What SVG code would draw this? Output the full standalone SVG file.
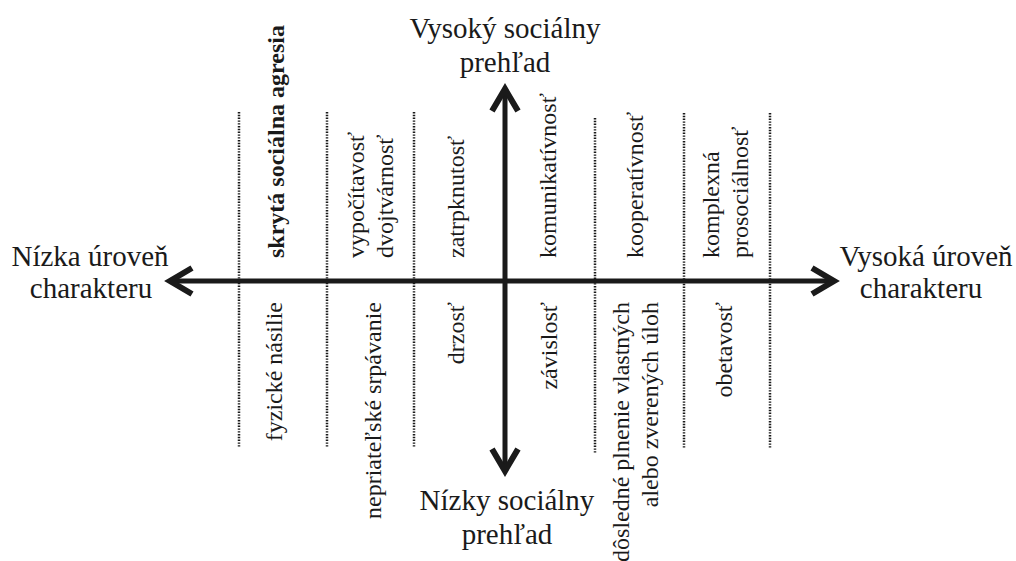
<svg xmlns="http://www.w3.org/2000/svg" width="1016" height="561" viewBox="0 0 1016 561">
<defs>
<style>
.dot{stroke:#1a1a1a;stroke-width:2.5;stroke-dasharray:1.4 1.4;fill:none}
.ax{stroke:#1a1a1a;stroke-width:5;fill:none}
.ah{stroke:#1a1a1a;stroke-width:6;fill:none;stroke-linecap:butt;stroke-linejoin:miter}
</style>
</defs>
<rect width="1016" height="561" fill="#fff"/>
<g id="dividers">
<line class="dot" x1="239" y1="112" x2="239" y2="448"/>
<line class="dot" x1="327" y1="112" x2="327" y2="448"/>
<line class="dot" x1="414" y1="112" x2="414" y2="448"/>
<line class="dot" x1="595" y1="118" x2="595" y2="453"/>
<line class="dot" x1="684" y1="113" x2="684" y2="448"/>
<line class="dot" x1="770" y1="113" x2="770" y2="448"/>
</g>
<g id="connectors">
<line class="ax" x1="172" y1="281" x2="831" y2="281"/>
<line class="ax" x1="505" y1="92" x2="505" y2="469"/>
<polyline class="ah" points="192,268 170,281 192,294"/>
<polyline class="ah" points="812,268 834,281 812,294"/>
<polyline class="ah" points="492,111 505,89 518,111"/>
<polyline class="ah" points="492,449 505,471 518,449"/>
</g>
<g id="top-label">
<text style="font-family:'Tinos','Liberation Serif','Times New Roman',serif;font-size:29px;text-anchor:middle;fill:#1a1a1a" x="505" y="38">Vysoký sociálny</text>
<text style="font-family:'Tinos','Liberation Serif','Times New Roman',serif;font-size:29px;text-anchor:middle;fill:#1a1a1a" x="505" y="72">prehľad</text>
</g>
<g id="bottom-label">
<text style="font-family:'Tinos','Liberation Serif','Times New Roman',serif;font-size:29px;text-anchor:middle;fill:#1a1a1a" x="507" y="510">Nízky sociálny</text>
<text style="font-family:'Tinos','Liberation Serif','Times New Roman',serif;font-size:29px;text-anchor:middle;fill:#1a1a1a" x="507" y="544">prehľad</text>
</g>
<g id="left-label">
<text style="font-family:'Tinos','Liberation Serif','Times New Roman',serif;font-size:29px;text-anchor:middle;fill:#1a1a1a" x="90" y="266">Nízka úroveň</text>
<text style="font-family:'Tinos','Liberation Serif','Times New Roman',serif;font-size:29px;text-anchor:middle;fill:#1a1a1a" x="91" y="298">charakteru</text>
</g>
<g id="right-label">
<text style="font-family:'Tinos','Liberation Serif','Times New Roman',serif;font-size:29px;text-anchor:middle;fill:#1a1a1a" x="926" y="266">Vysoká úroveň</text>
<text style="font-family:'Tinos','Liberation Serif','Times New Roman',serif;font-size:29px;text-anchor:middle;fill:#1a1a1a" x="921" y="298">charakteru</text>
</g>
<g id="top-columns">
<text style="font-family:'Tinos','Liberation Serif','Times New Roman',serif;font-size:24px;font-weight:bold;fill:#1a1a1a" transform="translate(284,258) rotate(-90)">skrytá sociálna agresia</text>
<text style="font-family:'Tinos','Liberation Serif','Times New Roman',serif;font-size:24px;fill:#1a1a1a" transform="translate(364,258) rotate(-90)">vypočítavosť</text>
<text style="font-family:'Tinos','Liberation Serif','Times New Roman',serif;font-size:24px;fill:#1a1a1a" transform="translate(393,258) rotate(-90)">dvojtvárnosť</text>
<text style="font-family:'Tinos','Liberation Serif','Times New Roman',serif;font-size:24px;fill:#1a1a1a" transform="translate(464,258) rotate(-90)">zatrpknutosť</text>
<text style="font-family:'Tinos','Liberation Serif','Times New Roman',serif;font-size:24px;fill:#1a1a1a" transform="translate(556,258) rotate(-90)">komunikatívnosť</text>
<text style="font-family:'Tinos','Liberation Serif','Times New Roman',serif;font-size:24px;fill:#1a1a1a" transform="translate(643,258) rotate(-90)">kooperatívnosť</text>
<text style="font-family:'Tinos','Liberation Serif','Times New Roman',serif;font-size:24px;fill:#1a1a1a" transform="translate(719,258) rotate(-90)">komplexná</text>
<text style="font-family:'Tinos','Liberation Serif','Times New Roman',serif;font-size:24px;fill:#1a1a1a" transform="translate(748,258) rotate(-90)">prosociálnosť</text>
</g>
<g id="bottom-columns">
<text style="font-family:'Tinos','Liberation Serif','Times New Roman',serif;font-size:24px;text-anchor:end;fill:#1a1a1a" transform="translate(282,302) rotate(-90)">fyzické násilie</text>
<text style="font-family:'Tinos','Liberation Serif','Times New Roman',serif;font-size:24px;text-anchor:end;fill:#1a1a1a" transform="translate(381,302) rotate(-90)">nepriateľské srpávanie</text>
<text style="font-family:'Tinos','Liberation Serif','Times New Roman',serif;font-size:24px;text-anchor:end;fill:#1a1a1a" transform="translate(464,302) rotate(-90)">drzosť</text>
<text style="font-family:'Tinos','Liberation Serif','Times New Roman',serif;font-size:24px;text-anchor:end;fill:#1a1a1a" transform="translate(557,302) rotate(-90)">závislosť</text>
<text style="font-family:'Tinos','Liberation Serif','Times New Roman',serif;font-size:24px;text-anchor:end;fill:#1a1a1a" transform="translate(629,302) rotate(-90)">dôsledné plnenie vlastných</text>
<text style="font-family:'Tinos','Liberation Serif','Times New Roman',serif;font-size:24px;text-anchor:end;fill:#1a1a1a" transform="translate(658,302) rotate(-90)">alebo zverených úloh</text>
<text style="font-family:'Tinos','Liberation Serif','Times New Roman',serif;font-size:24px;text-anchor:end;fill:#1a1a1a" transform="translate(732,302) rotate(-90)">obetavosť</text>
</g>
</svg>
